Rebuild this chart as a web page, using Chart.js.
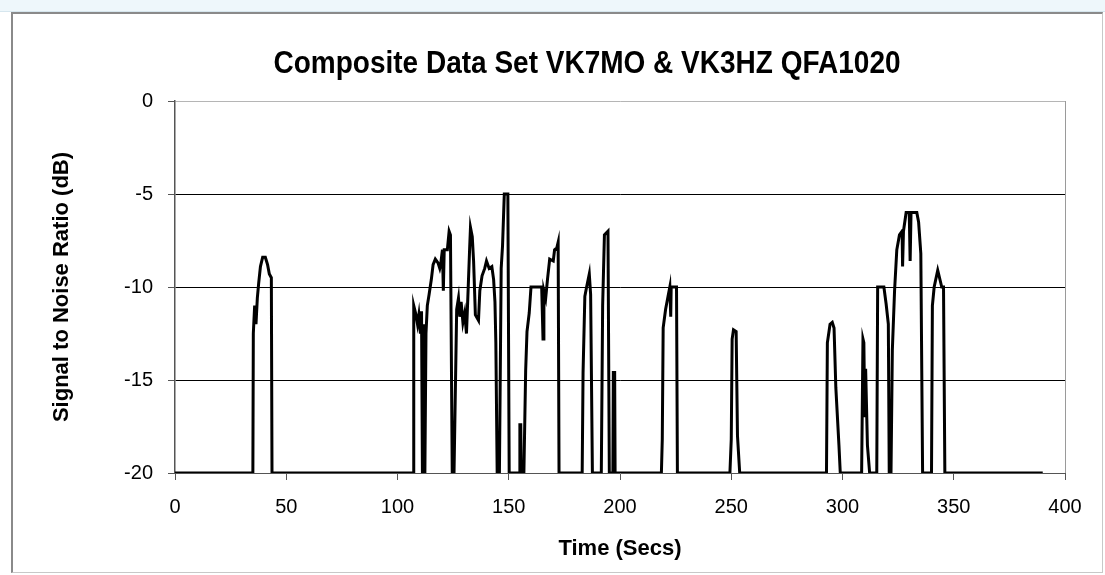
<!DOCTYPE html>
<html lang="en">
<head>
  <meta charset="UTF-8">
  <title>Composite Data Set VK7MO & VK3HZ QFA1020</title>
  <script src="https://cdn.jsdelivr.net/npm/chart.js"></script>
  <style>
    * { box-sizing: border-box; margin: 0; padding: 0; }
    body {
      width: 1105px;
      height: 575px;
      background: #fff;
      font-family: 'Liberation Sans', Arial, sans-serif;
      position: relative;
      overflow: hidden;
    }
    .strip {
      position: absolute;
      left: 0; top: 0;
      width: 1105px; height: 12px;
      background: #eef7fb;
      border-bottom: 1px solid #d6e6ee;
    }
    .frame {
      position: absolute;
      left: 11px; top: 12px;
      width: 1092px; height: 561px;
      border: 1px solid #c8c8c8;
      border-left: 2px solid #8a8a8a;
      border-top: 2px solid #8a8a8a;
    }
    .chart-box {
      position: absolute;
      left: 0; top: 0;
      width: 1105px; height: 575px;
    }
  </style>
</head>
<body>
  <div class="strip"></div>
  <div class="frame"></div>
  <div class="chart-box">
    <canvas id="snrChart"></canvas>
  </div>

  <script>
    // time in seconds and SNR in dB
    const timeSecs = [
      0, 35.0, 35.2, 35.8, 36.4, 37.0, 37.6, 38.4, 39.4, 40.6, 41.6, 42.4, 43.3, 43.6,
      107.0, 107.3, 108.3, 109.0, 109.6, 110.3, 110.8, 111.2, 111.8, 112.3, 112.8, 113.4,
      114.2, 115.2, 116.0, 117.0, 118.2, 119.0, 119.4, 120.2, 120.6, 121.0, 122.4, 123.2,
      123.8, 124.6, 125.4, 126.6, 127.4, 128.0, 128.6, 129.4, 130.2, 131.0, 131.6, 132.4,
      132.8, 133.6, 134.2, 135.0, 136.4, 137.0, 138.0, 139.2, 140.0, 141.2, 142.4, 143.2,
      143.8, 144.2, 144.8, 145.8, 146.6, 147.2, 148.0, 149.6, 150.2,
      154.8, 155.0, 155.4, 155.6, 156.8, 157.6, 158.2, 159.2, 160.0, 164.8, 165.4, 165.8,
      166.6, 167.4, 168.4, 170.0, 170.6, 171.6, 172.2, 172.6,
      183.0, 183.4, 184.2, 185.0, 186.2, 186.8, 187.6,
      191.6, 192.2, 193.0, 194.6, 195.2, 196.8, 197.0, 197.6, 197.8,
      218.6, 219.0, 219.4, 220.5, 221.6, 222.4, 222.8, 223.0, 225.4, 225.8,
      249.4, 250.0, 250.4, 251.0, 252.2, 252.8, 253.8,
      292.8, 293.2, 294.4, 295.4, 296.2, 297.0, 298.4, 299.0,
      308.6, 309.2, 309.6, 310.0, 310.4, 311.2, 312.2,
      315.4, 315.8, 318.6, 319.6, 320.6, 321.0, 321.8, 322.4, 323.4, 324.4, 325.6, 326.8,
      327.0, 327.4, 328.6, 330.0, 330.4, 330.8, 333.4, 334.2, 335.2, 336.0,
      340.0, 340.4, 341.2, 342.8, 344.6, 345.4, 346.0, 390.0
    ];
    const snrDb = [
      -20, -20, -12.5, -11.0, -12.0, -10.6, -9.8, -8.9, -8.4, -8.4, -8.8, -9.3, -9.5, -20,
      -20, -11.0, -11.5, -12.0, -11.5, -12.5, -11.3, -20, -12.0, -20, -12.5, -11.0,
      -10.4, -9.6, -8.8, -8.5, -8.7, -9.0, -8.8, -8.0, -10.2, -8.0, -8.0, -7.0,
      -7.2, -20, -20, -11.2, -10.6, -11.6, -10.8, -11.9, -11.4, -12.5, -10.6, -8.0,
      -6.8, -7.3, -8.6, -11.5, -11.8, -10.2, -9.4, -9.0, -8.6, -9.0, -8.9, -9.6,
      -10.8, -13.0, -20, -20, -9.0, -7.8, -5.0, -5.0, -20,
      -20, -17.4, -17.4, -20, -20, -14.5, -12.4, -11.4, -10.0, -10.0, -12.8, -10.2,
      -10.6, -9.6, -8.5, -8.6, -8.0, -7.9, -7.6, -20,
      -20, -14.6, -10.5, -10.0, -9.3, -10.4, -20,
      -20, -11.0, -7.2, -7.0, -20, -20, -14.6, -14.6, -20,
      -20, -18.2, -12.2, -11.2, -10.5, -10.0, -11.6, -10.0, -10.0, -20,
      -20, -18.2, -12.8, -12.3, -12.4, -18.0, -20,
      -20, -13.0, -12.0, -11.9, -12.2, -15.4, -18.5, -20,
      -20, -12.8, -13.0, -17.0, -14.4, -18.5, -20,
      -20, -10.0, -10.0, -10.9, -12.0, -20, -20, -13.4, -10.2, -8.0, -7.2, -7.0,
      -8.9, -7.0, -6.0, -6.0, -8.6, -6.0, -6.0, -6.5, -8.2, -20,
      -20, -11.0, -10.0, -9.1, -10.0, -10.0, -20, -20
    ];
    const xTicks = [0, 50, 100, 150, 200, 250, 300, 350, 400];
    const yTicks = [0, -5, -10, -15, -20];
    const chartTitle = 'Composite Data Set VK7MO & VK3HZ QFA1020';

    const points = timeSecs.map((t, i) => ({ x: t, y: snrDb[i] }));

    // title sits a bit left of the plot centre and is slightly tall, like the original
    const titlePlugin = {
      id: 'excelTitle',
      afterDraw(chart) {
        const ctx = chart.ctx;
        ctx.save();
        ctx.translate(587, 65);
        ctx.scale(1, 1.1);
        ctx.font = "bold 28px 'Liberation Sans', Arial, sans-serif";
        ctx.fillStyle = '#000';
        ctx.textAlign = 'center';
        ctx.textBaseline = 'middle';
        ctx.fillText(chartTitle, 0, 0);
        ctx.restore();
      }
    };

    const snrChart = new Chart(document.getElementById('snrChart'), {
      type: 'scatter',
      data: {
        datasets: [{
          label: 'SNR',
          data: points,
          showLine: true,
          borderColor: '#000',
          borderWidth: 3,
          pointRadius: 0,
          tension: 0,
          fill: false
        }]
      },
      options: {
        responsive: true,
        maintainAspectRatio: false,
        animation: false,
        layout: { padding: { left: 0, right: 40, top: 101, bottom: 0 } },
        plugins: {
          legend: { display: false },
          tooltip: { enabled: false },
          title: { display: false }
        },
        scales: {
          x: {
            type: 'linear',
            min: 0,
            max: 400,
            afterBuildTicks: (scale) => { scale.ticks = xTicks.map(v => ({ value: v })); },
            afterFit: (scale) => { scale.height = 102; },
            ticks: {
              color: '#000',
              padding: 15,
              maxRotation: 0,
              font: { family: "'Liberation Sans', Arial, sans-serif", size: 20 }
            },
            grid: {
              color: (ctx) => ctx.tick && ctx.tick.value === 400 ? '#9a9a9a' : 'rgba(0,0,0,0)',
              tickColor: '#555',
              tickLength: 7,
              lineWidth: 1
            },
            border: { color: '#555', width: 1 },
            title: {
              display: true,
              text: 'Time (Secs)',
              color: '#000',
              font: { family: "'Liberation Sans', Arial, sans-serif", size: 22, weight: 'bold' },
              padding: { top: 0, bottom: 13 }
            }
          },
          y: {
            min: -20,
            max: 0,
            afterBuildTicks: (scale) => { scale.ticks = yTicks.map(v => ({ value: v })); },
            afterFit: (scale) => { scale.width = 175; },
            ticks: {
              color: '#000',
              padding: 15,
              font: { family: "'Liberation Sans', Arial, sans-serif", size: 20 }
            },
            grid: {
              color: (ctx) => {
                const v = ctx.tick ? ctx.tick.value : null;
                if (v === 0) return '#b5b5b5';
                if (v === -20) return 'rgba(0,0,0,0)';
                return '#000';
              },
              tickColor: '#555',
              tickLength: 7,
              lineWidth: 1
            },
            border: { color: '#555', width: 1.5 },
            title: {
              display: true,
              text: 'Signal to Noise Ratio (dB)',
              color: '#000',
              font: { family: "'Liberation Sans', Arial, sans-serif", size: 22, weight: 'bold' },
              padding: { top: 49, bottom: 0 }
            }
          }
        }
      },
      plugins: [titlePlugin]
    });
  </script>
</body>
</html>
